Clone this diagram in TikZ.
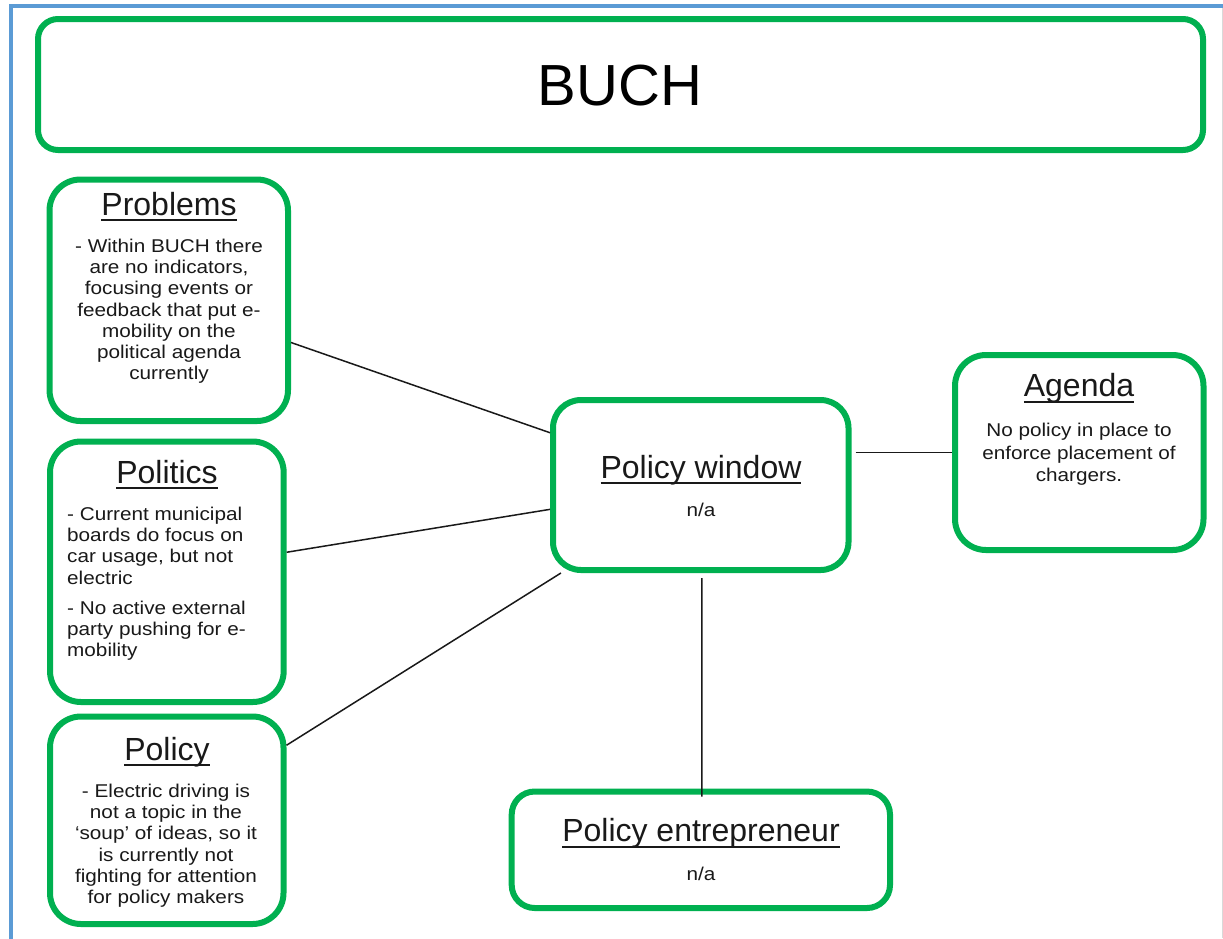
\documentclass[tikz,border=0pt]{standalone}
\usepackage{fontspec}
\setmainfont{Liberation Sans}
\newfontfamily\bodyfamily[FakeStretch=1.12]{Liberation Sans}
\definecolor{boxgreen}{RGB}{0,176,80}
\definecolor{frameblue}{RGB}{91,155,213}
\definecolor{inkgray}{RGB}{25,25,25}
% heading with a thick underline just below the baseline
\newcommand{\headul}[1]{\setbox0=\hbox{#1}\rlap{\rule[-6.3pt]{\wd0}{2.4pt}}\box0}
\newcommand{\bodytext}{\bodyfamily\fontsize{18.5}{21.2}\selectfont}
\tikzset{
  panel/.style={draw=boxgreen, line width=6pt, rounded corners=31pt, fill=white, inner sep=0pt},
  head/.style={font=\fontsize{32}{38}\selectfont, text=inkgray, inner sep=0pt, anchor=base},
  body/.style={text=inkgray, inner sep=0pt, anchor=base},
  link/.style={draw=inkgray, line width=1.5pt}
}
\begin{document}
\begin{tikzpicture}[x=1pt,y=-1pt]
\useasboundingbox (0,0) rectangle (1223,938);
\fill[white] (0,0) rectangle (1223,938);
% page frame
\draw[frameblue, line width=4pt] (10.5,940) -- (10.5,5.7) -- (1225,5.7);
\draw[black!15, line width=1pt] (1222.5,8) -- (1222.5,938);

% panels
\node[panel, rounded corners=20pt, minimum width=1165pt, minimum height=131pt] (buch) at (620.5,84.5) {};
\node[panel, minimum width=238.5pt, minimum height=241.5pt] (prob) at (168.75,300.25) {};
\node[panel, minimum width=233.7pt, minimum height=260.5pt] (pol) at (166.85,571.75) {};
\node[panel, minimum width=233.5pt, minimum height=207.5pt] (plcy) at (166.75,820.25) {};
\node[panel, rounded corners=28pt, minimum width=295.5pt, minimum height=170pt] (win) at (700.75,485) {};
\node[panel, minimum width=248.5pt, minimum height=195pt] (ag) at (1079.25,452.5) {};
\node[panel, rounded corners=23pt, minimum width=378.3pt, minimum height=116.5pt] (ent) at (700.85,849.75) {};

% connectors
\draw[link] (prob) -- (win);
\draw[link] (pol) -- (win);
\draw[link] (plcy) -- (win);
\draw[link] ([xshift=4pt]win.east |- ag.west) -- (ag.west);
\draw[link] ([xshift=1pt,yshift=-5pt]win.south) -- ([xshift=1pt,yshift=-8pt]ent.north);

% title
\node[text=black, inner sep=0pt, anchor=base, font=\fontsize{58}{66}\selectfont] (title) at (620,105) {BUCH};

% problems
\node[head] (probh) at (169,215) {\headul{Problems}};
\node[body] (probt) at (169,252.5) {\parbox[t]{230pt}{\bodytext\centering
- Within BUCH there\\ are no indicators,\\ focusing events or\\ feedback that put e-\\ mobility on the\\ political agenda\\ currently\par}};

% politics
\node[head] (polh) at (167,483) {\headul{Politics}};
\node[body, anchor=base west] (polt) at (67,520.5) {\parbox[t]{215pt}{\bodytext\raggedright
- Current municipal\\ boards do focus on\\ car usage, but not\\ electric\par\vspace{9pt}
- No active external\\ party pushing for e-\\ mobility\par}};

% policy
\node[head] (plcyh) at (167,760) {\headul{Policy}};
\node[body] (plcyt) at (166,797.5) {\parbox[t]{230pt}{\bodytext\centering
- Electric driving is\\ not a topic in the\\ ‘soup’ of ideas, so it\\ is currently not\\ fighting for attention\\ for policy makers\par}};

% policy window
\node[head] (winh) at (701,478) {\headul{Policy window}};
\node[body, font=\bodytext] (wint) at (701,516.5) {n/a};

% agenda
\node[head] (agh) at (1079,396.7) {\headul{Agenda}};
\node[body] (agt) at (1079,436.8) {\parbox[t]{240pt}{\bodyfamily\fontsize{18.5}{22.5}\selectfont\centering
No policy in place to\\ enforce placement of\\ chargers.\par}};

% policy entrepreneur
\node[head] (enth) at (701,841.7) {\headul{Policy entrepreneur}};
\node[body, font=\bodytext] (entt) at (701,880) {n/a};
\end{tikzpicture}
\end{document}
